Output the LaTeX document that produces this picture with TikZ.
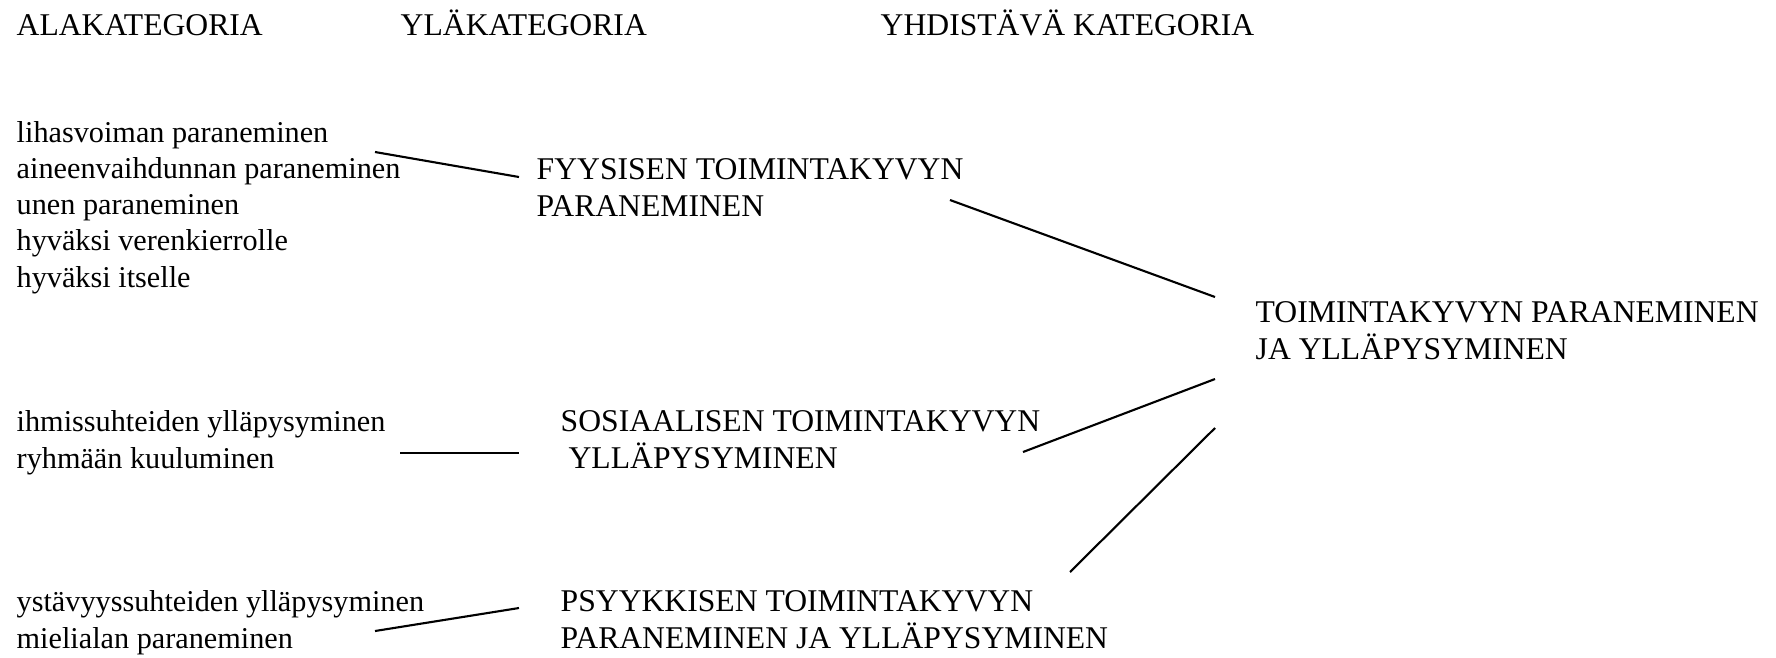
\documentclass[tikz,border=0pt]{standalone}
\usepackage{fontspec}
\setmainfont{Liberation Serif}
\usetikzlibrary{positioning}
\usetikzlibrary{calc}
\tikzset{
    txt/.style = {anchor=base west, align=left, inner sep=0pt, font=\fontsize{9}{10.25}\selectfont},
    alatxt/.style = {txt, font=\fontsize{8.6}{10.25}\selectfont},
    link/.style = {-, line width=0.6pt, black}
}

\begin{document}
\begin{tikzpicture}[x=0.01cm, y=-0.01cm]
\useasboundingbox (0,0) rectangle (1776,657);
% otsikot
\node[txt] at (16,35) (hala) {ALAKATEGORIA};
\node[txt] at (400,35) (hyla) {YLÄKATEGORIA};
\node[txt] at (880,35) (hyhd) {YHDISTÄVÄ KATEGORIA};
% alakategoriat (base = viimeinen rivi)
\node[alatxt] at (16,287) (ala1) {lihasvoiman paraneminen\\aineenvaihdunnan paraneminen\\unen paraneminen\\hyväksi verenkierrolle\\hyväksi itselle};
\node[alatxt] at (16,468) (ala2) {ihmissuhteiden ylläpysyminen\\ryhmään kuuluminen};
\node[alatxt] at (16,648) (ala3) {ystävyyssuhteiden ylläpysyminen\\mielialan paraneminen};
% yläkategoriat
\node[txt] at (536,216) (fyys) {FYYSISEN TOIMINTAKYVYN\\PARANEMINEN};
\node[txt] at (560,468) (sos) {SOSIAALISEN TOIMINTAKYVYN\\\ YLLÄPYSYMINEN};
\node[txt] at (560,648) (psy) {PSYYKKISEN TOIMINTAKYVYN\\PARANEMINEN JA YLLÄPYSYMINEN};
% yhdistävä
\node[txt] at (1255,359) (yht) {TOIMINTAKYVYN PARANEMINEN\\JA YLLÄPYSYMINEN};
%
\draw[link] ($(ala1.base west)+(359,-135)$) -- ($(fyys.base west)+(-17,-39)$);
\draw[link] ($(ala2.base west)+(384,-15)$) -- ($(sos.base west)+(-41,-15)$);
\draw[link] ($(ala3.base west)+(359,-17)$) -- ($(psy.base west)+(-41,-40)$);
%
\draw[link] ($(fyys.base west)+(414,-16)$) -- ($(yht.base west)+(-40,-62)$);
\draw[link] ($(sos.base west)+(463,-16)$) -- ($(yht.base west)+(-40,20)$);
\draw[link] ($(psy.base west)+(510,-76)$) -- ($(yht.base west)+(-40,69)$);
\end{tikzpicture}
\end{document}
